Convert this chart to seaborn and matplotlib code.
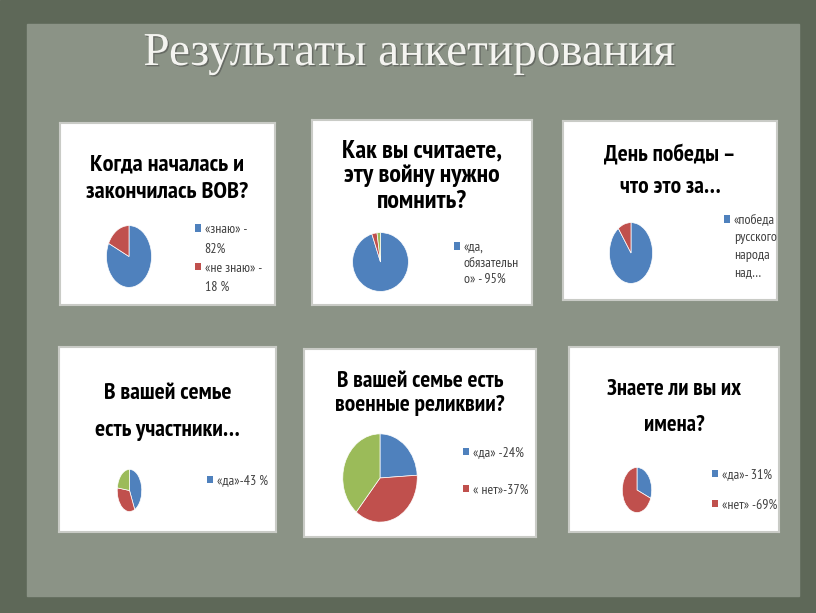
import matplotlib
matplotlib.use("Agg")
import matplotlib.pyplot as plt
import matplotlib.patheffects as pe
from matplotlib.patches import Rectangle, Patch
import seaborn as sns

# ---------------- data ----------------
page_title = "Результаты анкетирования"

q1_title = "Когда началась и\nзакончилась ВОВ?"
q1_values = [82, 18]
q1_legend = ["«знаю» -", "82%", "«не знаю» -", "18 %"]

q2_title = "Как вы считаете,\nэту войну нужно\nпомнить?"
q2_values = [95, 3, 2]
q2_legend = ["«да,", "обязательн", "о» - 95%"]

q3_title = "День победы –\nчто это за…"
q3_values = [90, 10]
q3_legend = ["«победа", "русского", "народа", "над…"]

q4_title = "В вашей семье\nесть участники…"
q4_values = [43, 34, 23]
q4_legend = ["«да»-43 %"]

q5_title = "В вашей семье есть\nвоенные реликвии?"
q5_values = [24, 37, 39]
q5_legend = ["«да» -24%", "« нет»-37%"]

q6_title = "Знаете ли вы их\nимена?"
q6_values = [31, 69]
q6_legend = ["«да»- 31%", "«нет» -69%"]

# ---------------- style ----------------
sns.set_theme(style="white")
palette = sns.color_palette(["#4F81BD", "#C0504D", "#9BBB59"])
NARROW = ['PT Sans Narrow', 'Liberation Sans Narrow', 'DejaVu Sans']
plt.rcParams['font.family'] = NARROW

W, H = 816, 613
fig = plt.figure(figsize=(W / 100, H / 100), dpi=100)
renderer = fig.canvas.get_renderer()


def box(x0, y0, x1, y1):
    return [x0 / W, 1 - y1 / H, (x1 - x0) / W, (y1 - y0) / H]


def fx(x):
    return x / W


def fy(y):
    return 1 - y / H


# background
bg = fig.add_axes([0, 0, 1, 1])
bg.set_xlim(0, W)
bg.set_ylim(H, 0)
bg.axis("off")
bg.add_patch(Rectangle((0, 0), W, H, color="#5e6858", zorder=0))
bg.add_patch(Rectangle((27, 24), 772, 572, color="#8b9386", zorder=1))

fig.text(fx(410), fy(65), page_title, ha="center", va="baseline",
         fontsize=34, color="#f4f4f0", family=["Liberation Serif", "DejaVu Serif"],
         path_effects=[pe.withSimplePatchShadow(offset=(1, -1), shadow_rgbFace="#444", alpha=0.5)])

# layout: panel box, title baselines, title target width, pie box,
# legend square left x, legend first/last line centre, legend row spacing
charts = [
    dict(panel=(60, 123, 275, 305), title=q1_title, base=(170, 198), tw=163,
         values=q1_values, legend=q1_legend, first=[0, 2], pie=(106, 225, 152, 288),
         lx=195, ly=(227, 290), lsp=0.45),
    dict(panel=(312, 120, 532, 305), title=q2_title, base=(157, 182, 208), tw=160,
         values=q2_values, legend=q2_legend, first=[0], pie=(352, 232, 409, 292),
         lx=454, ly=(246, 281), lsp=0.22),
    dict(panel=(563, 121, 777, 300), title=q3_title, base=(161, 193), tw=132,
         values=q3_values, legend=q3_legend, first=[0], pie=(609, 222, 653, 284),
         lx=724, ly=(218, 275), lsp=0.32),
    dict(panel=(59, 347, 276, 532), title=q4_title, base=(399, 436), tw=145,
         values=q4_values, legend=q4_legend, first=[0], pie=(117, 469, 142, 512),
         lx=207, ly=(481, 481), lsp=0.5),
    dict(panel=(304, 349, 536, 537), title=q5_title, base=(387, 411), tw=170,
         values=q5_values, legend=q5_legend, first=[0, 1], pie=(342, 433, 418, 523),
         lx=463, ly=(452, 491), lsp=1.75),
    dict(panel=(569, 347, 779, 532), title=q6_title, base=(395, 431), tw=134,
         values=q6_values, legend=q6_legend, first=[0, 1], pie=(622, 467, 652, 513),
         lx=712, ly=(474, 506), lsp=1.25),
]

LEG_FS = 10
for c in charts:
    pax = fig.add_axes(box(*c["panel"]))
    pax.set_facecolor("white")
    pax.set_xticks([])
    pax.set_yticks([])
    for s in pax.spines.values():
        s.set_edgecolor("#c9cbc6")
        s.set_linewidth(1.5)
    cx = (c["panel"][0] + c["panel"][2]) / 2

    # title lines, font size fitted to the reference line width
    texts = []
    for line, yb in zip(c["title"].split("\n"), c["base"]):
        texts.append(fig.text(fx(cx), fy(yb), line, ha="center", va="baseline",
                              fontsize=20, fontweight="bold", color="black"))
    wmax = max(t.get_window_extent(renderer=renderer).width for t in texts)
    for t in texts:
        t.set_fontsize(20 * c["tw"] / wmax)

    ax = fig.add_axes(box(*c["pie"]))
    wedges, _ = ax.pie(c["values"], colors=palette[:len(c["values"])],
                       startangle=90, counterclock=False,
                       wedgeprops=dict(edgecolor="white", linewidth=0.5))
    ax.set_aspect("auto")
    ax.set_xlim(-1.02, 1.02)
    ax.set_ylim(-1.02, 1.02)
    ax.axis("off")

    handles = []
    k = 0
    for i in range(len(c["legend"])):
        if i in c["first"]:
            handles.append(wedges[k])
            k += 1
        else:
            handles.append(Patch(facecolor="none", edgecolor="none"))
    leg = fig.legend(handles, c["legend"], loc="center left",
                     bbox_to_anchor=(fx(c["lx"]), fy((c["ly"][0] + c["ly"][1]) / 2)),
                     frameon=False, fontsize=LEG_FS, handlelength=0.45,
                     handleheight=0.45, handletextpad=0.25, borderpad=0,
                     borderaxespad=0, labelspacing=c["lsp"], labelcolor="#404040")
    for h in leg.legend_handles:
        h.set_edgecolor("none")

fig.savefig("out.png", dpi=100)
